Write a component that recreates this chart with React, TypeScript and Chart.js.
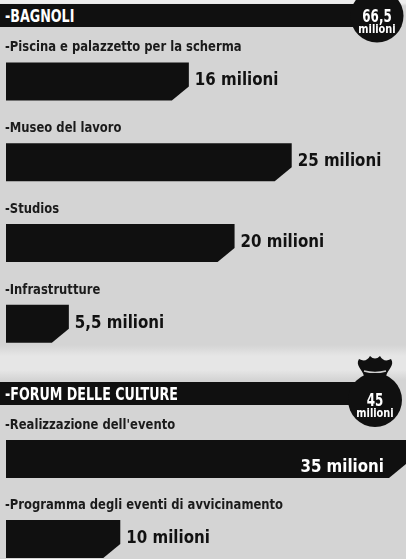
import React, { useEffect, useRef } from "react";
import { Chart, registerables } from "chart.js";

Chart.register(...registerables);

// ---------- DATA ----------
const bagnoliTitle = "BAGNOLI";
const bagnoliTotal = "66,5";
const bagnoliCategories = [
  "Piscina e palazzetto per la scherma",
  "Museo del lavoro",
  "Studios",
  "Infrastrutture",
];
const bagnoliValues = [16, 25, 20, 5.5];
const bagnoliValueLabels = ["16 milioni", "25 milioni", "20 milioni", "5,5 milioni"];

const forumTitle = "FORUM DELLE CULTURE";
const forumTotal = "45";
const forumCategories = [
  "Realizzazione dell'evento",
  "Programma degli eventi di avvicinamento",
];
const forumValues = [35, 10];
const forumValueLabels = ["35 milioni", "10 milioni"];

const unitLabel = "milioni";
const xMax = 35;

// ---------- STYLE ----------
const FONT = '"DejaVu Sans Condensed", "DejaVu Sans", sans-serif';
const BAR_COLOR = "#101010";

function scaledText(
  ctx: CanvasRenderingContext2D,
  txt: string,
  x: number,
  y: number,
  sx: number,
  align: CanvasTextAlign
) {
  ctx.save();
  ctx.translate(x, y);
  ctx.scale(sx, 1);
  ctx.textAlign = align;
  ctx.textBaseline = "alphabetic";
  ctx.fillText(txt, 0, 0);
  ctx.restore();
}

type SectionProps = {
  categories: string[];
  values: number[];
  valueLabels: string[];
  top: number;
  height: number;
  padTop: number;
};

function SectionChart({ categories, values, valueLabels, top, height, padTop }: SectionProps) {
  const ref = useRef<HTMLCanvasElement | null>(null);

  useEffect(() => {
    if (!ref.current) return;
    const chamferW = 17;
    const chamferH = 14;
    const barPlugin = {
      id: "chamferBars",
      afterDatasetsDraw(chart: any) {
        const ctx = chart.ctx as CanvasRenderingContext2D;
        const meta = chart.getDatasetMeta(0);
        meta.data.forEach((el: any, i: number) => {
          const p = el.getProps(["x", "y", "base", "height"], true);
          const left = Math.min(p.base, p.x);
          const right = Math.max(p.base, p.x);
          const t = p.y - p.height / 2;
          const b = p.y + p.height / 2;
          ctx.save();
          ctx.fillStyle = BAR_COLOR;
          ctx.beginPath();
          ctx.moveTo(left, t);
          ctx.lineTo(right, t);
          ctx.lineTo(right, b - chamferH);
          ctx.lineTo(right - chamferW, b);
          ctx.lineTo(left, b);
          ctx.closePath();
          ctx.fill();

          // category label above bar
          ctx.font = `bold 14px ${FONT}`;
          ctx.fillStyle = "#1b1b1b";
          scaledText(ctx, "-" + categories[i], chart.chartArea.left - 1, t - 11, 0.92, "left");

          // value label
          ctx.font = `bold 18px ${FONT}`;
          const sx = 0.93;
          const txt = valueLabels[i];
          const w = ctx.measureText(txt).width * sx;
          if (right + 6 + w > chart.width - 2) {
            ctx.fillStyle = "#ffffff";
            scaledText(ctx, txt, right - 22, p.y + 13, sx, "right");
          } else {
            ctx.fillStyle = "#111111";
            scaledText(ctx, txt, right + 6, p.y + 4, sx, "left");
          }
          ctx.restore();
        });
      },
    };

    const chart = new Chart(ref.current, {
      type: "bar",
      data: {
        labels: categories,
        datasets: [
          {
            data: values,
            backgroundColor: "rgba(0,0,0,0)",
            borderWidth: 0,
            barThickness: 38,
          },
        ],
      },
      options: {
        indexAxis: "y",
        animation: false,
        responsive: false,
        maintainAspectRatio: false,
        layout: { padding: { left: 6, right: 0, top: padTop, bottom: 0 } },
        scales: {
          x: { display: false, min: 0, max: xMax },
          y: { display: false },
        },
        plugins: {
          legend: { display: false },
          tooltip: { enabled: false },
        },
      },
      plugins: [barPlugin],
    } as any);
    return () => chart.destroy();
  }, []);

  return (
    <canvas
      ref={ref}
      width={406}
      height={height}
      style={{ position: "absolute", left: 0, top, width: 406, height }}
    />
  );
}

function Header({ y, title }: { y: number; title: string }) {
  return (
    <g>
      <rect x={0} y={y} width={380} height={23} fill={BAR_COLOR} />
      <text
        transform={`translate(5,${y + 18}) scale(0.83,1)`}
        fill="#ffffff"
        fontFamily={FONT}
        fontWeight="bold"
        fontSize={17}
      >
        {"-" + title}
      </text>
    </g>
  );
}

function Bag({ cx, cy, r, total, knot }: { cx: number; cy: number; r: number; total: string; knot: boolean }) {
  return (
    <g>
      {knot && (
        <g>
          <path
            d={`M ${cx - 11} ${cy - r + 3} C ${cx - 13} ${cy - r - 4} ${cx - 20} ${cy - r - 8} ${cx - 16} ${cy - r - 14} Q ${cx - 9} ${cy - r - 10} ${cx - 5} ${cy - r - 17} Q ${cx} ${cy - r - 12} ${cx + 5} ${cy - r - 17} Q ${cx + 9} ${cy - r - 10} ${cx + 16} ${cy - r - 14} C ${cx + 20} ${cy - r - 8} ${cx + 13} ${cy - r - 4} ${cx + 11} ${cy - r + 3} Z`}
            fill={BAR_COLOR}
          />
          <path
            d={`M ${cx - 11} ${cy - r - 2} Q ${cx} ${cy - r + 1} ${cx + 11} ${cy - r - 2}`}
            stroke="#cfcfcf"
            strokeWidth={1.3}
            fill="none"
          />
        </g>
      )}
      <circle cx={cx} cy={cy} r={r} fill={BAR_COLOR} />
      <text
        transform={`translate(${cx},${cy + 6}) scale(0.78,1)`}
        textAnchor="middle"
        fill="#ffffff"
        fontFamily={FONT}
        fontWeight="bold"
        fontSize={17}
      >
        {total}
      </text>
      <text
        transform={`translate(${cx},${cy + 17}) scale(0.95,1)`}
        textAnchor="middle"
        fill="#ffffff"
        fontFamily={FONT}
        fontWeight="bold"
        fontSize={11.5}
      >
        {unitLabel}
      </text>
    </g>
  );
}

export default function App() {
  return (
    <div
      style={{
        position: "absolute",
        left: 0,
        top: 0,
        width: 406,
        height: 559,
        overflow: "hidden",
        background:
          "linear-gradient(to bottom, #ededed 0px, #ededed 3px, #d4d4d4 6px, #d4d4d4 345px, #e6e6e6 356px, #e6e6e6 370px, #d4d4d4 380px, #d4d4d4 100%)",
      }}
    >
      <SectionChart
        categories={bagnoliCategories}
        values={bagnoliValues}
        valueLabels={bagnoliValueLabels}
        top={30}
        height={334}
        padTop={11}
      />
      <SectionChart
        categories={forumCategories}
        values={forumValues}
        valueLabels={forumValueLabels}
        top={408}
        height={171}
        padTop={11}
      />
      <svg
        width={406}
        height={559}
        style={{ position: "absolute", left: 0, top: 0, pointerEvents: "none" }}
      >
        <Header y={4} title={bagnoliTitle} />
        <Bag cx={377} cy={16} r={26.5} total={bagnoliTotal} knot={false} />
        <Header y={382} title={forumTitle} />
        <Bag cx={375} cy={400} r={27} total={forumTotal} knot={true} />
      </svg>
    </div>
  );
}
